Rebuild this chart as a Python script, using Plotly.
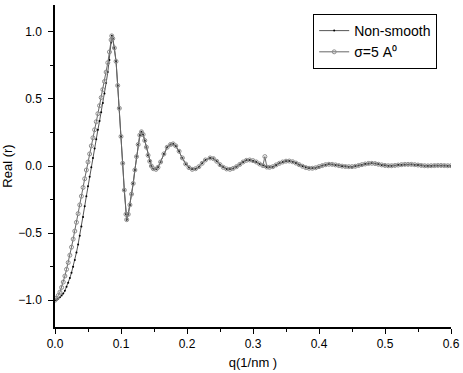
import plotly.graph_objects as go

# q (1/nm)
q = [0.0, 0.0025, 0.005, 0.0075, 0.01, 0.0125, 0.015, 0.0175, 0.02, 0.0225,
     0.025, 0.0275, 0.03, 0.0325, 0.035, 0.0375, 0.04, 0.0425, 0.045, 0.0475,
     0.05, 0.0525, 0.055, 0.0575, 0.06, 0.0625, 0.065, 0.0675, 0.07, 0.0725,
     0.075, 0.0775, 0.08, 0.0825, 0.085, 0.086, 0.0875, 0.09, 0.0925, 0.095,
     0.0975, 0.1, 0.1025, 0.105, 0.1075, 0.1086, 0.111, 0.1135, 0.116, 0.1185,
     0.121, 0.1235, 0.126, 0.1285, 0.131, 0.1335, 0.136, 0.1385, 0.141, 0.1435,
     0.146, 0.149, 0.153, 0.156, 0.16, 0.165, 0.17, 0.175, 0.179, 0.183,
     0.188, 0.193, 0.198, 0.203, 0.208, 0.213, 0.218, 0.223, 0.228, 0.235,
     0.24, 0.245, 0.25, 0.255, 0.26, 0.265, 0.27, 0.275, 0.28, 0.285,
     0.29, 0.295, 0.3, 0.305, 0.31, 0.315, 0.318, 0.321, 0.325, 0.33,
     0.335, 0.34, 0.345, 0.35, 0.355, 0.36, 0.365, 0.37, 0.375, 0.38,
     0.385, 0.39, 0.395, 0.4, 0.405, 0.41, 0.415, 0.42, 0.425, 0.43,
     0.435, 0.44, 0.445, 0.45, 0.455, 0.46, 0.465, 0.47, 0.475, 0.48,
     0.485, 0.49, 0.495, 0.5, 0.505, 0.51, 0.515, 0.52, 0.525, 0.53,
     0.535, 0.54, 0.545, 0.55, 0.555, 0.56, 0.565, 0.57, 0.575, 0.58,
     0.585, 0.59, 0.595, 0.6]

real_smooth = [-1.0, -0.985, -0.965, -0.94, -0.905, -0.865, -0.82, -0.77, -0.72, -0.665,
               -0.605, -0.545, -0.485, -0.42, -0.355, -0.29, -0.225, -0.16, -0.095, -0.03,
               0.03, 0.09, 0.15, 0.21, 0.27, 0.33, 0.39, 0.45, 0.51, 0.57,
               0.63, 0.70, 0.77, 0.85, 0.94, 0.97, 0.95, 0.88, 0.78, 0.60,
               0.43, 0.22, 0.02, -0.18, -0.36, -0.40, -0.36, -0.29, -0.21, -0.13,
               -0.03, 0.07, 0.16, 0.23, 0.255, 0.235, 0.19, 0.14, 0.08, 0.035,
               0.0, -0.02, -0.025, -0.01, 0.03, 0.09, 0.14, 0.16, 0.165, 0.15,
               0.11, 0.06, 0.015, -0.012, -0.025, -0.02, -0.005, 0.02, 0.045, 0.06,
               0.055, 0.035, 0.01, -0.01, -0.022, -0.025, -0.018, -0.005, 0.012, 0.03,
               0.042, 0.045, 0.04, 0.03, 0.015, 0.003, 0.07, -0.008, -0.01, -0.005,
               0.008, 0.02, 0.03, 0.036, 0.037, 0.032, 0.022, 0.01, -0.002, -0.012,
               -0.017, -0.017, -0.013, -0.005, 0.003, 0.01, 0.013, 0.012, 0.008, 0.003,
               -0.001, -0.004, -0.005, -0.005, -0.002, 0.004, 0.01, 0.015, 0.019, 0.02,
               0.018, 0.013, 0.008, 0.004, 0.002, 0.002, 0.004, 0.007, 0.01, 0.012,
               0.012, 0.012, 0.01, 0.007, 0.004, 0.002, 0.001, 0.002, 0.003, 0.004,
               0.004, 0.003, 0.002, 0.002]

real_raw = [-1.0, -0.998, -0.99, -0.978, -0.965, -0.95, -0.93, -0.90, -0.87, -0.835,
            -0.795, -0.75, -0.70, -0.645, -0.585, -0.52, -0.45, -0.38, -0.30, -0.225,
            -0.15, -0.08, -0.01, 0.06, 0.13, 0.20, 0.27, 0.335, 0.40, 0.47,
            0.54, 0.62, 0.70, 0.79, 0.92, 0.97, 0.95, 0.88, 0.78, 0.60,
            0.43, 0.22, 0.02, -0.18, -0.36, -0.40, -0.36, -0.29, -0.21, -0.13,
            -0.03, 0.07, 0.16, 0.23, 0.255, 0.235, 0.19, 0.14, 0.08, 0.035,
            0.0, -0.02, -0.025, -0.01, 0.03, 0.09, 0.14, 0.16, 0.165, 0.15,
            0.11, 0.06, 0.015, -0.012, -0.025, -0.02, -0.005, 0.02, 0.045, 0.06,
            0.055, 0.035, 0.01, -0.01, -0.022, -0.025, -0.018, -0.005, 0.012, 0.03,
            0.042, 0.045, 0.04, 0.03, 0.015, 0.003, -0.003, -0.008, -0.01, -0.005,
            0.008, 0.02, 0.03, 0.036, 0.037, 0.032, 0.022, 0.01, -0.002, -0.012,
            -0.017, -0.017, -0.013, -0.005, 0.003, 0.01, 0.013, 0.012, 0.008, 0.003,
            -0.001, -0.004, -0.005, -0.005, -0.002, 0.004, 0.01, 0.015, 0.019, 0.02,
            0.018, 0.013, 0.008, 0.004, 0.002, 0.002, 0.004, 0.007, 0.01, 0.012,
            0.012, 0.012, 0.01, 0.007, 0.004, 0.002, 0.001, 0.002, 0.003, 0.004,
            0.004, 0.003, 0.002, 0.002]

FONT = "Liberation Sans, Arial, sans-serif"

fig = go.Figure()
# non-smooth drawn first so the smoothed circles sit on top
fig.add_trace(go.Scatter(
    x=q, y=real_raw, name="Non-smooth", mode="lines+markers",
    line=dict(color="#2a2a2a", width=0.8),
    marker=dict(symbol="circle", size=2, color="#000000"),
    legendrank=1
))
fig.add_trace(go.Scatter(
    x=q, y=real_smooth, name="σ=5 A⁰", mode="lines+markers",
    line=dict(color="#666666", width=1),
    marker=dict(symbol="circle-open", size=4, color="#8c8c8c", line=dict(width=1)),
    legendrank=2
))

axis_common = dict(showgrid=False, zeroline=False, showline=True, automargin=False,
                   linecolor="black", linewidth=1.5, tickcolor="black",
                   tickformat=".1f", tickfont=dict(family=FONT, size=12, color="black"))

fig.update_layout(
    width=463, height=373,
    margin=dict(l=55, r=12, t=5, b=46),
    plot_bgcolor="white", paper_bgcolor="white",
    font=dict(family=FONT, size=12, color="black"),
    xaxis=dict(range=[0, 0.6], dtick=0.1, ticks="outside", ticklen=5,
               minor=dict(dtick=0.05, ticks="outside", ticklen=3, tickcolor="black"),
               title=dict(text="q(1/nm )", standoff=8, font=dict(family=FONT, size=13)),
               **axis_common),
    yaxis=dict(range=[-1.2, 1.2], dtick=0.5, ticks="outside", ticklen=5,
               ticklabelstandoff=4,
               minor=dict(dtick=0.25, ticks="outside", ticklen=3, tickcolor="black"),
               title=dict(text="Real (r)", standoff=4, font=dict(family=FONT, size=13)),
               **axis_common),
    xaxis2=dict(overlaying="x", side="top", range=[0, 0.6], dtick=0.05,
                ticks="inside", ticklen=4, showticklabels=False, showgrid=False,
                zeroline=False, showline=True, linecolor="black", linewidth=1.5,
                tickcolor="black", automargin=False),
    yaxis2=dict(overlaying="y", side="right", range=[-1.2, 1.2], dtick=0.25,
                ticks="inside", ticklen=4, showticklabels=False, showgrid=False,
                zeroline=False, showline=True, linecolor="black", linewidth=1.5,
                tickcolor="black", automargin=False),
    legend=dict(x=0.652, y=0.972, xanchor="left", yanchor="top",
                bgcolor="white", bordercolor="black", borderwidth=1,
                font=dict(family=FONT, size=14), tracegroupgap=0,
                itemwidth=30),
    showlegend=True,
)

# the page body has a default 8px margin; drop it so the figure sits at (0, 0)
fig.write_html("out.html", config={"displayModeBar": False},
               post_script="document.body.style.margin='0';")
